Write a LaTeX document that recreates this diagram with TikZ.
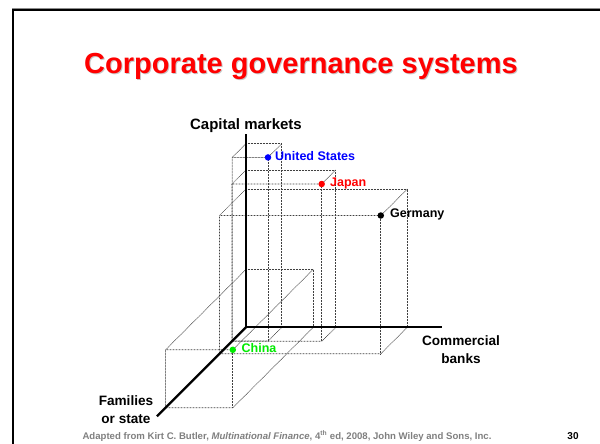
\documentclass[tikz,border=0pt]{standalone}
\usepackage{fontspec}
\setmainfont{Liberation Sans}
\begin{document}
\definecolor{titlered}{RGB}{255,0,0}
\definecolor{usblue}{RGB}{0,0,255}
\definecolor{chgreen}{RGB}{0,235,0}
\definecolor{footgray}{RGB}{128,128,128}
\tikzset{
  gridline/.style={line width=0.7pt, black!75, dash pattern=on 0.75pt off 0.75pt},
  axisline/.style={line width=2.2pt, black},
  marker/.style={circle, fill=#1, inner sep=0pt, minimum size=6.5pt},
  country/.style={font=\fontsize{12.5}{14}\selectfont\bfseries, inner sep=0pt, anchor=west},
  axislabel/.style={font=\fontsize{13.6}{18}\selectfont\bfseries, align=center, inner sep=0pt},
}
% one box: width along banks, height along markets, depth along families
\newcommand{\govbox}[3]{%
  \draw[gridline] (0,#2,0) -- (#1,#2,0) -- (#1,0,0);
  \draw[gridline] (0,#2,0) -- (0,#2,#3) -- (#1,#2,#3) -- (#1,#2,0);
  \draw[gridline] (0,#2,#3) -- (0,0,#3) -- (#1,0,#3) -- (#1,0,0);
  \draw[gridline] (#1,#2,#3) -- (#1,0,#3);
}
\begin{tikzpicture}[x=1pt, y=-1pt]
  \useasboundingbox (0,0) rectangle (600,444);
  \fill[white] (0,0) rectangle (600,444);

  % slide frame
  \draw[line width=1.3pt, black!45] (12,8.6) -- (600,8.6);
  \draw[line width=2.3pt, black] (600,10.3) -- (13.3,10.3) -- (13.3,444);

  % title with drop shadow
  \node[font=\fontsize{29}{34}\selectfont\bfseries, text=black!22] at (302,67) {Corporate governance systems};
  \node (title) [font=\fontsize{29}{34}\selectfont\bfseries, text=titlered] at (301,66) {Corporate governance systems};

  \begin{scope}[shift={(246,327.3)}, x={(1pt,0pt)}, y={(0pt,1pt)}, z={(-1pt,-1pt)}]
    % boxes
    \govbox{35.7}{183.6}{13.7}
    \govbox{89.7}{157.3}{14}
    \govbox{161.3}{138.3}{26.5}
    \govbox{67.3}{58}{80.5}

    % axes
    \draw[axisline, line join=miter] (0,193,0) -- (0,0,0) -- (196,0,0);
    \draw[axisline] (0,0,0) -- (0,0,89);

    % country points
    \node (us) [marker=usblue] at (35.7,183.6,13.7) {};
    \node (jp) [marker=titlered] at (89.7,157.3,14) {};
    \node (de) [marker=black] at (161.3,138.3,26.5) {};
    \node (cn) [marker=chgreen] at (67.3,58,80.5) {};
  \end{scope}

  % country labels
  \node (uslabel) [country, text=usblue] at (275,156) {United States};
  \node (jplabel) [country, text=titlered] at (330,183) {Japan};
  \node (delabel) [country, text=black] at (390,214.5) {Germany};
  \node (cnlabel) [country, text=chgreen] at (241.5,348) {China};

  % axis labels
  \node (capital) [axislabel, font=\fontsize{15}{18}\selectfont\bfseries] at (246,126) {Capital markets};
  \node (banks) [axislabel] at (461,350) {Commercial\\banks};
  \node (families) [axislabel] at (126,410) {Families\\or state};

  % footer
  \node (source) [font=\fontsize{9.6}{11}\selectfont\bfseries, text=footgray] at (287,436)
    {Adapted from Kirt C. Butler, \textit{Multinational Finance}, 4\textsuperscript{th} ed, 2008, John Wiley and Sons, Inc.};
  \node (page) [font=\fontsize{10}{12}\selectfont\bfseries] at (573,436) {30};
\end{tikzpicture}
\end{document}
